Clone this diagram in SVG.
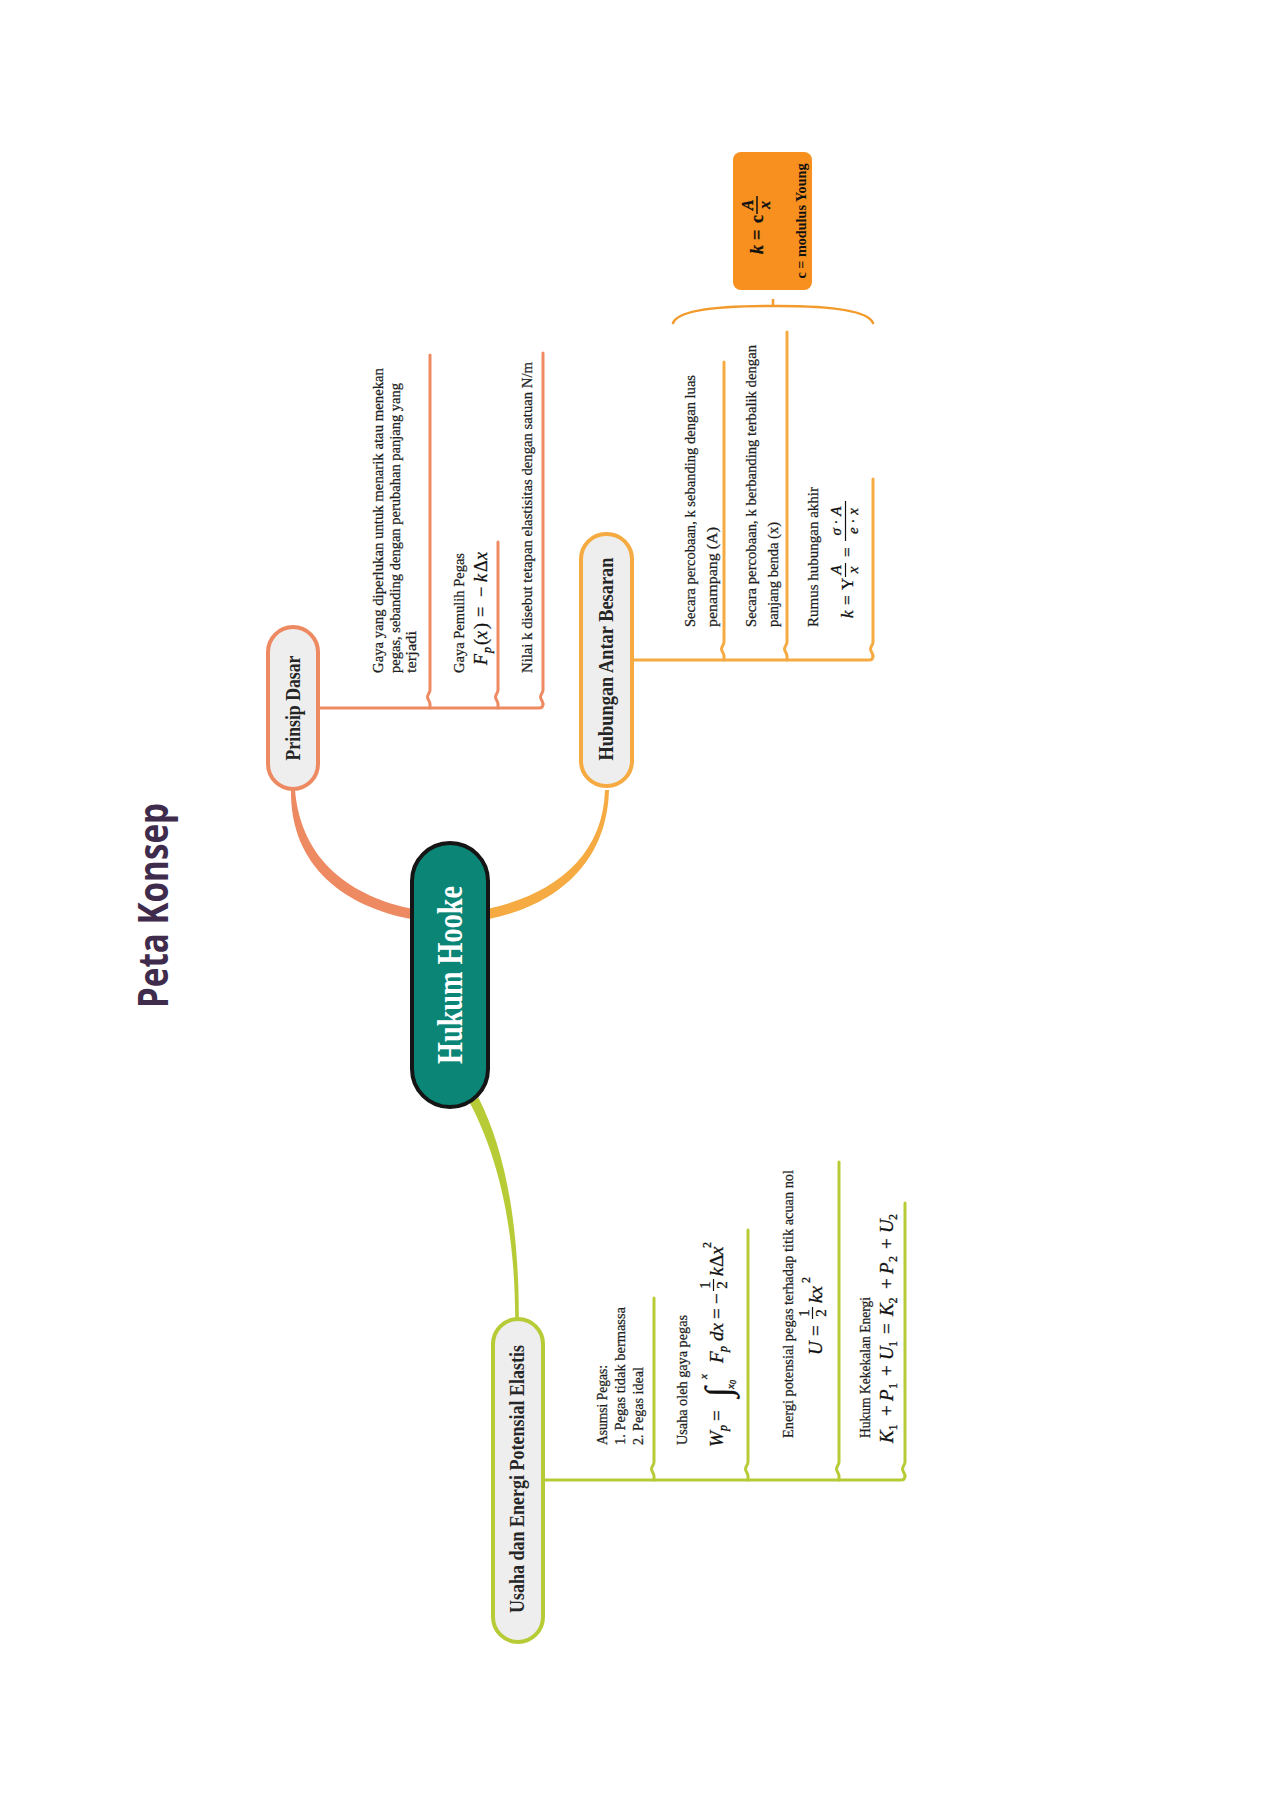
<svg xmlns="http://www.w3.org/2000/svg" width="1272" height="1800" viewBox="0 0 1272 1800">
<style>
.bg{fill:#ffffff}
.t{font-family:"Liberation Serif","DejaVu Serif",serif;font-size:15.5px;fill:#1e1e1e;stroke:#1e1e1e;stroke-width:0.25}
.ts{font-family:"Liberation Serif","DejaVu Serif",serif;font-size:14.5px;fill:#1e1e1e;stroke:#1e1e1e;stroke-width:0.25}
.m{font-family:"Liberation Serif","DejaVu Serif",serif;fill:#111;stroke:#111;stroke-width:0.3}
.i{font-style:italic}
.nt{font-family:"Liberation Serif","DejaVu Serif",serif;font-weight:bold;font-size:20px;fill:#262626}
.node{fill:#eeeeee;stroke-width:4}
.lp{fill:none;stroke:#ee8a62;stroke-width:3;stroke-linecap:round}
.lh{fill:none;stroke:#f5ab42;stroke-width:3;stroke-linecap:round}
.lu{fill:none;stroke:#b7cb37;stroke-width:3;stroke-linecap:round}
.fb{stroke:#111;stroke-width:1.2}
</style>
<rect class="bg" x="0" y="0" width="1272" height="1800"/>

<text transform="translate(168,1008) rotate(-90)" font-family="'Open Sans','Noto Sans',sans-serif" font-weight="bold" font-size="42" fill="#3f2b4b" textLength="205" lengthAdjust="spacingAndGlyphs">Peta Konsep</text>

<g id="connectors">
  <path d="M 413 909 L 411 919 C 347 907, 290 868, 291 790 L 295 790 C 301 862, 353 897, 413 909 Z" fill="#ee8a62"/>
  <path d="M 487 909 C 553 895, 603 857, 605 790 L 609 790 C 607 863, 557 905, 489 919 Z" fill="#f5ab42"/>
  <path d="M 478.5 1097.7 C 504 1148, 519 1220, 518.8 1319 L 515.2 1319 C 515 1222, 496 1152, 469.5 1102.3 Z" fill="#b7cb37"/>

  <path class="lp" d="M 318 708 H 539 Q 543 708 543 704"/>
  <path class="lp" d="M 430 355 V 690 c 0 3 -2.5 4.5 -2.5 7 c 0 2.5 2.5 4 2.5 7 V 708"/>
  <path class="lp" d="M 498 542 V 690 c 0 3 -2.5 4.5 -2.5 7 c 0 2.5 2.5 4 2.5 7 V 708"/>
  <path class="lp" d="M 543 353 V 690 c 0 3 -2.5 4.5 -2.5 7 c 0 2.5 2.5 4 2.5 7"/>

  <path class="lh" d="M 632 660 H 869 Q 873 660 873 656"/>
  <path class="lh" d="M 724 362 V 642 c 0 3 -2.5 4.5 -2.5 7 c 0 2.5 2.5 4 2.5 7 V 660"/>
  <path class="lh" d="M 787 332 V 642 c 0 3 -2.5 4.5 -2.5 7 c 0 2.5 2.5 4 2.5 7 V 660"/>
  <path class="lh" d="M 873 479 V 642 c 0 3 -2.5 4.5 -2.5 7 c 0 2.5 2.5 4 2.5 7"/>
  <path d="M 673 323 C 680 305, 760 306, 773 306 C 786 306, 866 305, 873 323" fill="none" stroke="#f39a2c" stroke-width="2.5" stroke-linecap="round"/>
  <path d="M 773 306 V 299" fill="none" stroke="#f39a2c" stroke-width="2.5"/>

  <path class="lu" d="M 543 1480 H 901 Q 905 1480 905 1476"/>
  <path class="lu" d="M 654 1298 V 1462 c 0 3 -2.5 4.5 -2.5 7 c 0 2.5 2.5 4 2.5 7 V 1480"/>
  <path class="lu" d="M 748 1230 V 1462 c 0 3 -2.5 4.5 -2.5 7 c 0 2.5 2.5 4 2.5 7 V 1480"/>
  <path class="lu" d="M 839 1162 V 1462 c 0 3 -2.5 4.5 -2.5 7 c 0 2.5 2.5 4 2.5 7 V 1480"/>
  <path class="lu" d="M 905 1203 V 1462 c 0 3 -2.5 4.5 -2.5 7 c 0 2.5 2.5 4 2.5 7"/>
</g>

<g id="node-hukum-hooke">
  <rect x="412" y="843" width="76" height="264" rx="38" fill="#0b8576" stroke="#151515" stroke-width="4"/>
  <text transform="translate(462,975) rotate(-90)" text-anchor="middle" font-family="'Liberation Serif','DejaVu Serif',serif" font-weight="bold" font-size="35" fill="#ffffff" textLength="178" lengthAdjust="spacingAndGlyphs">Hukum Hooke</text>
</g>

<g id="node-prinsip-dasar">
  <rect class="node" x="268" y="627" width="50" height="162" rx="25" stroke="#ee8a62"/>
  <text class="nt" transform="translate(300,708) rotate(-90)" text-anchor="middle" textLength="105" lengthAdjust="spacingAndGlyphs">Prinsip Dasar</text>
</g>

<g id="node-hubungan">
  <rect class="node" x="581" y="534" width="51" height="252" rx="25" stroke="#f5ab42"/>
  <text class="nt" transform="translate(613,659) rotate(-90)" text-anchor="middle" textLength="203" lengthAdjust="spacingAndGlyphs">Hubungan Antar Besaran</text>
</g>

<g id="node-usaha">
  <rect class="node" x="493" y="1319" width="50" height="323" rx="25" stroke="#b7cb37"/>
  <text class="nt" transform="translate(524,1479) rotate(-90)" text-anchor="middle" textLength="268" lengthAdjust="spacingAndGlyphs">Usaha dan Energi Potensial Elastis</text>
</g>

<g id="notes-prinsip">
  <text class="t" transform="translate(383,673) rotate(-90)" textLength="305" lengthAdjust="spacingAndGlyphs">Gaya yang diperlukan untuk menarik atau menekan</text>
  <text class="t" transform="translate(400,673) rotate(-90)" textLength="290" lengthAdjust="spacingAndGlyphs">pegas, sebanding dengan perubahan panjang yang</text>
  <text class="t" transform="translate(416,673) rotate(-90)" textLength="42" lengthAdjust="spacingAndGlyphs">terjadi</text>
  <text class="t" transform="translate(464,673) rotate(-90)" textLength="120" lengthAdjust="spacingAndGlyphs">Gaya Pemulih Pegas</text>
  <g transform="translate(487,665) rotate(-90)">
    <text class="m" font-size="18"><tspan x="0" y="0" class="i">F</tspan><tspan x="12" y="4" class="i" font-size="12">p</tspan><tspan x="20" y="0">(</tspan><tspan x="26" y="0" class="i">x</tspan><tspan x="36" y="0">)</tspan><tspan x="48" y="0">=</tspan><tspan x="68" y="0">−</tspan><tspan x="83" y="0" class="i">k</tspan><tspan x="93" y="0">Δ</tspan><tspan x="105" y="0" class="i">x</tspan></text>
  </g>
  <text class="t" transform="translate(532,673) rotate(-90)" textLength="311" lengthAdjust="spacingAndGlyphs">Nilai k disebut tetapan elastisitas dengan satuan N/m</text>
</g>

<g id="notes-hubungan">
  <text class="t" transform="translate(695,627) rotate(-90)" textLength="252" lengthAdjust="spacingAndGlyphs">Secara percobaan, k sebanding dengan luas</text>
  <text class="t" transform="translate(717,627) rotate(-90)" textLength="100" lengthAdjust="spacingAndGlyphs">penampang (A)</text>
  <text class="t" transform="translate(756,627) rotate(-90)" textLength="282" lengthAdjust="spacingAndGlyphs">Secara percobaan, k berbanding terbalik dengan</text>
  <text class="t" transform="translate(778,627) rotate(-90)" textLength="105" lengthAdjust="spacingAndGlyphs">panjang benda (x)</text>
  <text class="t" transform="translate(818,627) rotate(-90)" textLength="140" lengthAdjust="spacingAndGlyphs">Rumus hubungan akhir</text>
  <g transform="translate(853,618) rotate(-90)">
    <text class="m" font-size="17"><tspan x="0" y="0" class="i">k</tspan><tspan x="13" y="0">=</tspan><tspan x="28" y="0">Y</tspan><tspan x="61" y="0">=</tspan></text>
    <text class="m i" font-size="15" x="48" y="-12" text-anchor="middle">A</text>
    <line class="fb" x1="41" y1="-7.5" x2="55" y2="-7.5"/>
    <text class="m i" font-size="15" x="48" y="5" text-anchor="middle">x</text>
    <text class="m" font-size="15" x="97" y="-12" text-anchor="middle"><tspan class="i">σ</tspan> · <tspan class="i">A</tspan></text>
    <line class="fb" x1="77" y1="-7.5" x2="117" y2="-7.5"/>
    <text class="m" font-size="15" x="97" y="5" text-anchor="middle"><tspan class="i">e</tspan> · <tspan class="i">x</tspan></text>
  </g>
</g>

<g id="node-modulus">
  <rect x="733" y="152" width="79" height="138" rx="8" fill="#f7901e"/>
  <g transform="translate(763,254) rotate(-90)">
    <text class="m" font-size="18" font-weight="bold"><tspan x="0" y="0" class="i">k</tspan><tspan x="14" y="0">=</tspan><tspan x="31" y="0">c</tspan></text>
    <text class="m i" font-size="16" font-weight="bold" x="49" y="-10" text-anchor="middle">A</text>
    <line x1="40" y1="-6" x2="58" y2="-6" stroke="#111" stroke-width="1.5"/>
    <text class="m i" font-size="16" font-weight="bold" x="49" y="7" text-anchor="middle">x</text>
  </g>
  <text transform="translate(806,221) rotate(-90)" text-anchor="middle" font-family="'Liberation Serif','DejaVu Serif',serif" font-weight="bold" font-size="14" fill="#111" textLength="115" lengthAdjust="spacingAndGlyphs">c = modulus Young</text>
</g>

<g id="notes-usaha">
  <text class="ts" transform="translate(607,1445) rotate(-90)" textLength="80" lengthAdjust="spacingAndGlyphs">Asumsi Pegas:</text>
  <text class="ts" transform="translate(625,1445) rotate(-90)" textLength="138" lengthAdjust="spacingAndGlyphs">1. Pegas tidak bermassa</text>
  <text class="ts" transform="translate(643,1445) rotate(-90)" textLength="78" lengthAdjust="spacingAndGlyphs">2. Pegas ideal</text>
  <text class="ts" transform="translate(687,1445) rotate(-90)" textLength="130" lengthAdjust="spacingAndGlyphs">Usaha oleh gaya pegas</text>
  <g transform="translate(723,1447) rotate(-90)">
    <text class="m" font-size="19"><tspan x="0" y="0" class="i">W</tspan><tspan x="16" y="4" class="i" font-size="12">p</tspan><tspan x="26" y="0">=</tspan><tspan x="84" y="0" class="i">F</tspan><tspan x="95" y="4" class="i" font-size="12">p</tspan><tspan x="106" y="0" class="i">dx</tspan><tspan x="128" y="0">=</tspan><tspan x="143" y="0">−</tspan><tspan x="171" y="0" class="i">k</tspan><tspan x="180" y="0">Δ</tspan><tspan x="192" y="0" class="i">x</tspan></text>
    <text class="m" font-size="36" x="50" y="7">∫</text>
    <text class="m i" font-size="11" x="68" y="-16">x</text>
    <text class="m i" font-size="11" x="58" y="11">x<tspan font-size="8" dy="2">0</tspan></text>
    <text class="m" font-size="15" x="162" y="-13" text-anchor="middle">1</text>
    <line class="fb" x1="156" y1="-9.5" x2="168" y2="-9.5"/>
    <text class="m" font-size="15" x="162" y="4" text-anchor="middle">2</text>
    <text class="m" font-size="12" x="199" y="-12">2</text>
  </g>
  <text class="ts" transform="translate(793,1438) rotate(-90)" textLength="268" lengthAdjust="spacingAndGlyphs">Energi potensial pegas terhadap titik acuan nol</text>
  <g transform="translate(822,1355) rotate(-90)">
    <text class="m" font-size="19"><tspan x="0" y="0" class="i">U</tspan><tspan x="19" y="0">=</tspan><tspan x="52" y="0" class="i">kx</tspan></text>
    <text class="m" font-size="15" x="42" y="-13" text-anchor="middle">1</text>
    <line class="fb" x1="36" y1="-9.5" x2="48" y2="-9.5"/>
    <text class="m" font-size="15" x="42" y="4" text-anchor="middle">2</text>
    <text class="m" font-size="12" x="72" y="-12">2</text>
  </g>
  <text class="ts" transform="translate(870,1438) rotate(-90)" textLength="141" lengthAdjust="spacingAndGlyphs">Hukum Kekekalan Energi</text>
  <g transform="translate(893,1443) rotate(-90)">
    <text class="m" font-size="19"><tspan x="0" y="0" class="i">K</tspan><tspan x="12.5" y="4" font-size="12">1</tspan><tspan x="27" y="0">+</tspan><tspan x="42" y="0" class="i">P</tspan><tspan x="54" y="4" font-size="12">1</tspan><tspan x="67" y="0">+</tspan><tspan x="83" y="0" class="i">U</tspan><tspan x="96" y="4" font-size="12">1</tspan><tspan x="109" y="0">=</tspan><tspan x="127" y="0" class="i">K</tspan><tspan x="139.5" y="4" font-size="12">2</tspan><tspan x="154" y="0">+</tspan><tspan x="169" y="0" class="i">P</tspan><tspan x="181" y="4" font-size="12">2</tspan><tspan x="194" y="0">+</tspan><tspan x="210" y="0" class="i">U</tspan><tspan x="223" y="4" font-size="12">2</tspan></text>
  </g>
</g>
</svg>
